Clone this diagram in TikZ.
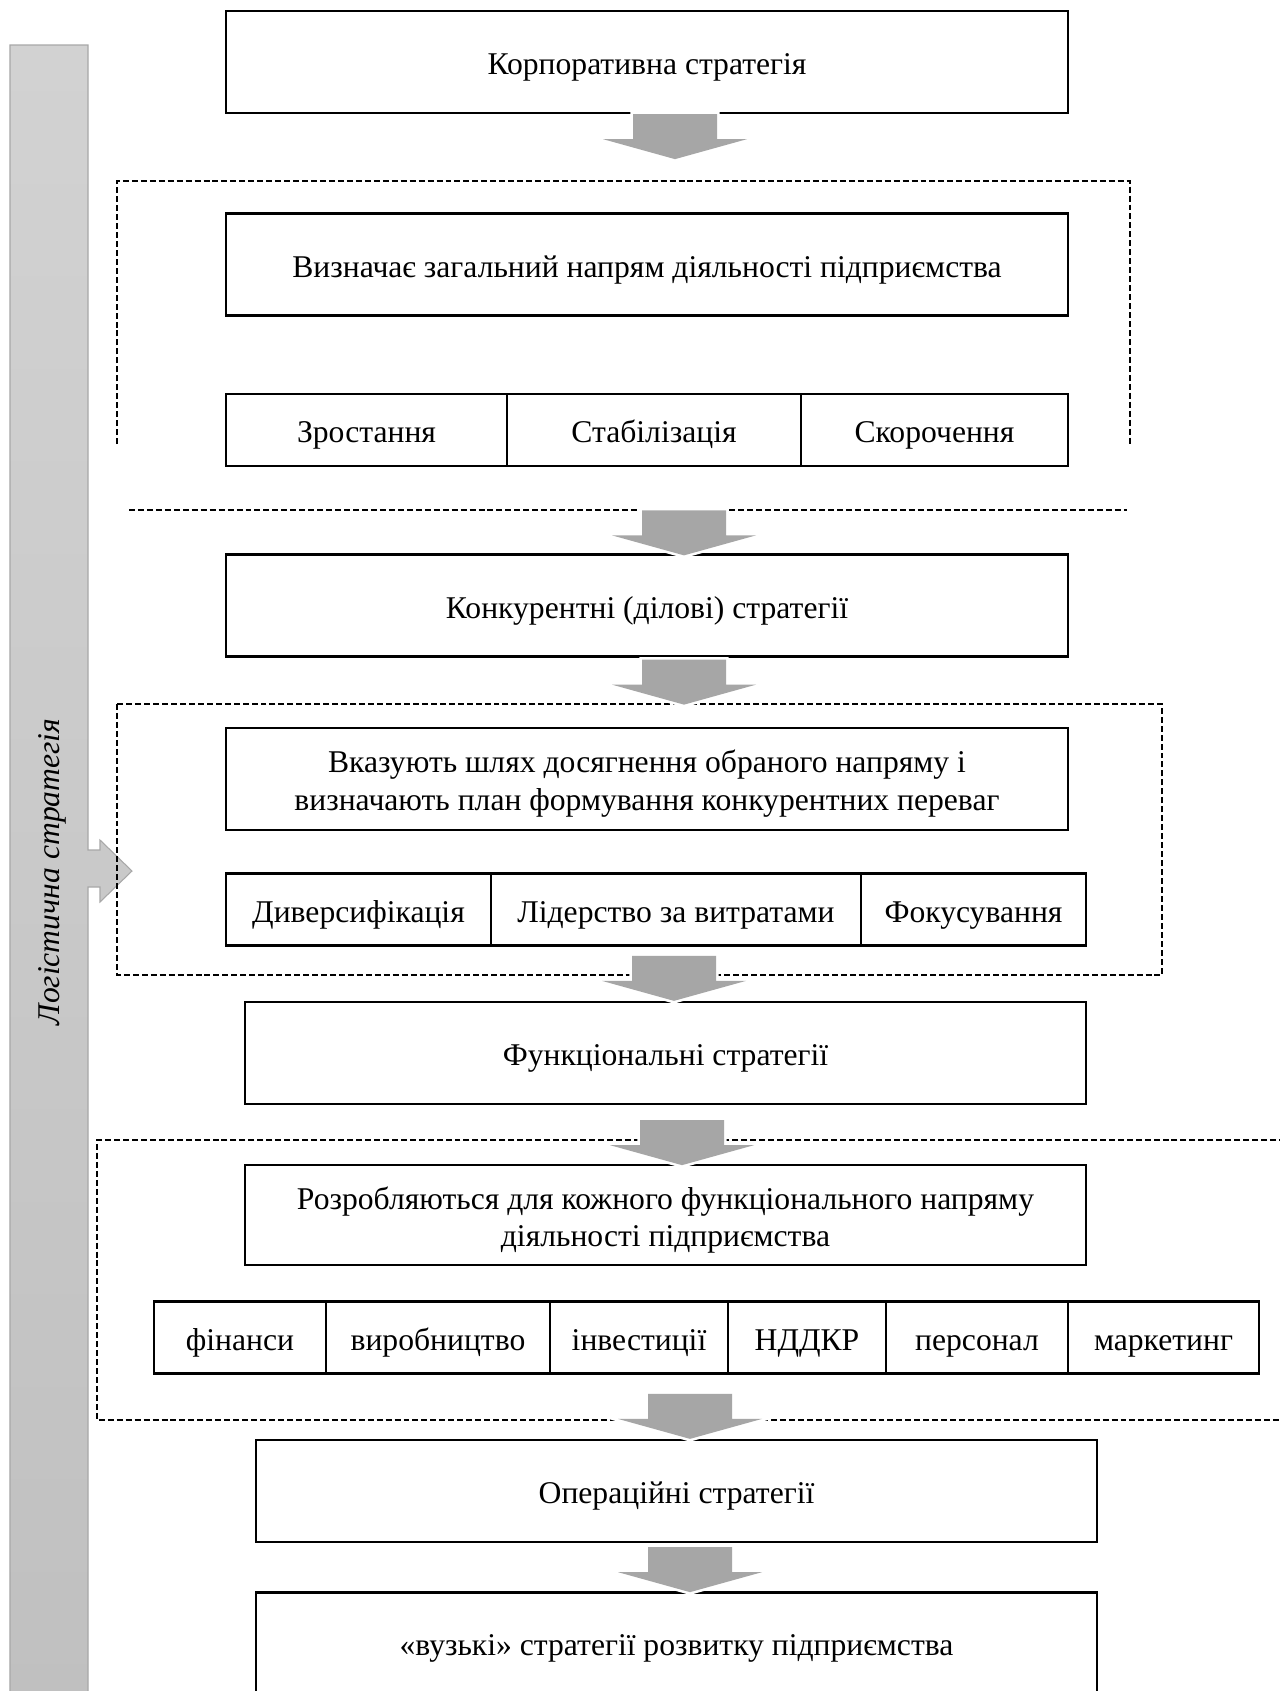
\documentclass[tikz,border=0pt]{standalone}
\usepackage{fontspec}
\setmainfont{Liberation Serif}
\usetikzlibrary{calc}

\definecolor{bartop}{HTML}{D2D2D2}
\definecolor{barbot}{HTML}{C0C0C0}
\definecolor{barline}{HTML}{A8A8A8}
\definecolor{arrowgray}{HTML}{A6A6A6}

\tikzset{
  box/.style={draw,line width=1.3pt,minimum width=16.84cm,minimum height=2.04cm,inner sep=0pt,align=center},
  onerow/.style={text height=18.5pt,text depth=4pt},
  cell/.style={draw,line width=1.3pt,minimum height=1.44cm,inner sep=0pt,onerow},
  frameline/.style={line width=0.6pt,dash pattern=on 3.4pt off 1.7pt},
  bigarrow/.style={fill=arrowgray,preaction={draw=white,line width=3pt}},
}
\newcommand{\grarrow}[1]{\fill[bigarrow] (#1) ++(-0.84,0) -- ++(1.68,0) -- ++(0,-0.5) -- ++(0.6,0) -- ++(-1.44,-0.4) -- ++(-1.44,0.4) -- ++(0.6,0) -- cycle;}
\newcommand{\topstrut}{\rule{0pt}{18.5pt}}

\begin{document}
\begin{tikzpicture}[every node/.style={font=\fontsize{18}{21.5}\selectfont}]
\useasboundingbox (0,0) rectangle (25.6,-33.82);

% side bar
\draw[draw=barline,top color=bartop,bottom color=barbot,line width=0.6pt] (0.2,-34.2) -- (0.2,-0.9) -- (1.76,-0.9) -- (1.76,-17.0) -- (2.0,-17.0) -- (2.0,-16.8) -- (2.64,-17.42) -- (2.0,-18.04) -- (2.0,-17.74) -- (1.76,-17.74) -- (1.76,-34.2);
\node[rotate=90,font=\itshape\fontsize{18}{21.5}\selectfont] (logist) at (1.04,-17.44) {Логістична стратегія};

% dashed frames
\draw[frameline] (2.34,-8.88) -- (2.34,-3.62) -- (22.6,-3.62) -- (22.6,-8.88);
\draw[frameline] (2.58,-10.2) -- (22.54,-10.2);
\draw[frameline] (2.34,-14.08) rectangle (23.24,-19.5);
\draw[frameline] (25.7,-22.8) -- (1.94,-22.8) -- (1.94,-28.4) -- (25.7,-28.4);

% corporate level
\node[box,onerow] (corp) at (12.94,-1.24) {Корпоративна стратегія};
\node[box,onerow] (vyzn) at (12.94,-5.29) {Визначає загальний напрям діяльності підприємства};
\node[cell,minimum width=5.62cm] (grow) at (7.33,-8.6) {Зростання};
\node[cell,minimum width=5.88cm] (stab) at (13.08,-8.6) {Стабілізація};
\node[cell,minimum width=5.34cm] (cut) at (18.69,-8.6) {Скорочення};

% business level
\node[box,onerow] (konk) at (12.94,-12.11) {Конкурентні (ділові) стратегії};
\node[box] (vkaz) at (12.94,-15.58) {\topstrut Вказують шлях досягнення обраного напряму і\\визначають план формування конкурентних переваг};
\node[cell,minimum width=5.3cm] (divers) at (7.17,-18.19) {Диверсифікація};
\node[cell,minimum width=7.4cm] (leader) at (13.52,-18.19) {Лідерство за витратами};
\node[cell,minimum width=4.5cm] (focus) at (19.47,-18.19) {Фокусування};

% functional level
\node[box,onerow,minimum width=16.82cm] (func) at (13.31,-21.06) {Функціональні стратегії};
\node[box,minimum width=16.82cm,minimum height=2.0cm] (rozr) at (13.31,-24.3) {\topstrut Розробляються для кожного функціонального напряму\\діяльності підприємства};
\node[cell,minimum width=3.44cm] (fin) at (4.8,-26.75) {фінанси};
\node[cell,minimum width=4.48cm] (vyrob) at (8.76,-26.75) {виробництво};
\node[cell,minimum width=3.56cm] (invest) at (12.78,-26.75) {інвестиції};
\node[cell,minimum width=3.16cm] (nddkr) at (16.14,-26.75) {НДДКР};
\node[cell,minimum width=3.64cm] (pers) at (19.54,-26.75) {персонал};
\node[cell,minimum width=3.82cm] (market) at (23.27,-26.75) {маркетинг};

% operational level
\node[box,onerow,minimum width=16.82cm] (oper) at (13.53,-29.82) {Операційні стратегії};
\node[box,onerow,minimum width=16.82cm,minimum height=2.02cm] (vuzk) at (13.53,-32.86) {«вузькі» стратегії розвитку підприємства};

% block arrows
\grarrow{$(corp.south)+(0.56,0)$}
\grarrow{$(konk.north)+(0.74,0.86)$}
\grarrow{$(konk.south)+(0.74,-0.04)$}
\grarrow{$(func.north)+(0.17,0.9)$}
\grarrow{$(func.south)+(0.33,-0.3)$}
\grarrow{$(oper.north)+(0.27,0.9)$}
\grarrow{$(oper.south)+(0.27,-0.08)$}
\end{tikzpicture}
\end{document}
